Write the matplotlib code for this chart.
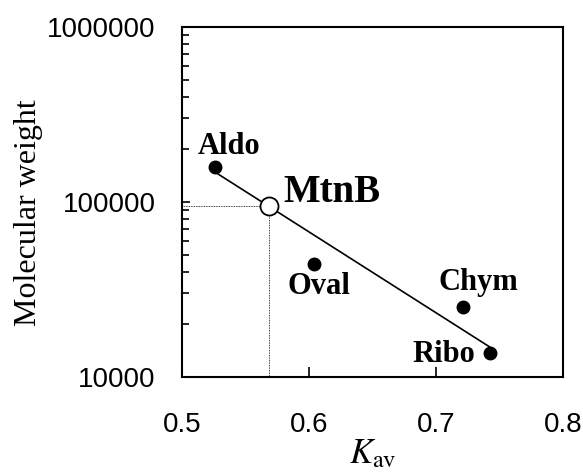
import numpy as np
import matplotlib.pyplot as plt
from matplotlib.ticker import LogLocator, NullFormatter, FixedLocator

plt.rcParams["mathtext.fontset"] = "stix"

# Standard proteins on the gel filtration column
proteins = ["Aldo", "Oval", "Chym", "Ribo"]
kav = [0.526, 0.604, 0.721, 0.7425]
mw = [158000, 44000, 25000, 13700]

# Calibration line (log10 MW = slope * Kav + intercept) and its span
fit_slope = -4.62
fit_intercept = 7.601
fit_range = [0.526, 0.7425]

# Sample
sample_name = "MtnB"
sample_kav = 0.5685
sample_mw = 10 ** (fit_slope * sample_kav + fit_intercept)

# label offsets in pixels (dx, dy) and alignment
label_pos = {
    "Aldo": (14, 13, "center"),
    "Oval": (5, -30, "center"),
    "Chym": (16, 17, "center"),
    "Ribo": (-15, -9, "right"),
}

fig = plt.figure(figsize=(5.83, 4.72), dpi=100)
ax = fig.add_axes([0.3122, 0.2013, 0.6535, 0.7415])

# calibration line
fx = np.linspace(fit_range[0], fit_range[1], 50)
ax.plot(fx, 10 ** (fit_slope * fx + fit_intercept), color="black", lw=1.2, zorder=2)

# dotted guides from the sample to both axes
ax.plot([0.5, sample_kav], [sample_mw, sample_mw], color="black", lw=0.6,
        ls=(0, (1, 1)), zorder=1)
ax.plot([sample_kav, sample_kav], [10000, sample_mw], color="black", lw=0.6,
        ls=(0, (1, 1)), zorder=1)

ax.plot(kav, mw, "o", color="black", ms=9, zorder=3)
ax.plot([sample_kav], [sample_mw], "o", mfc="white", mec="black", mew=1.3,
        ms=13, zorder=4)

for name, x, y in zip(proteins, kav, mw):
    dx, dy, ha = label_pos[name]
    ax.annotate(name, (x, y), xytext=(dx, dy), textcoords="offset pixels",
                ha=ha, va="baseline", fontsize=22, fontweight="bold",
                family="Liberation Serif")
ax.annotate(sample_name, (sample_kav, sample_mw), xytext=(14, 4),
            textcoords="offset pixels", ha="left", va="baseline",
            fontsize=28, fontweight="bold", family="Liberation Serif")

ax.set_yscale("log")
ax.set_xlim(0.5, 0.8)
ax.set_ylim(10000, 1000000)

ax.xaxis.set_major_locator(FixedLocator([0.5, 0.6, 0.7, 0.8]))
ax.set_xticklabels(["0.5", "0.6", "0.7", "0.8"])
ax.yaxis.set_major_locator(FixedLocator([10000, 100000, 1000000]))
ax.set_yticklabels(["10000", "100000", "1000000"])
ax.yaxis.set_minor_locator(LogLocator(base=10, subs=np.arange(2, 10)))
ax.yaxis.set_minor_formatter(NullFormatter())

ax.tick_params(axis="both", which="both", direction="in", width=1.2,
               labelsize=20)
ax.tick_params(axis="x", which="major", length=7, pad=25)
ax.tick_params(axis="y", which="major", length=6, pad=19)
ax.tick_params(axis="y", which="minor", length=5)
for lab in ax.get_xticklabels() + ax.get_yticklabels():
    lab.set_family("Liberation Sans")

for sp in ax.spines.values():
    sp.set_linewidth(1.5)

ax.set_ylabel("Molecular weight", fontsize=23, family="Liberation Serif")
ax.yaxis.set_label_coords(-0.365, 0.47)
ax.set_xlabel(r"$K_{\mathrm{av}}$", fontsize=25)
ax.xaxis.set_label_coords(0.5, -0.17)

fig.savefig("out.png", dpi=100)
